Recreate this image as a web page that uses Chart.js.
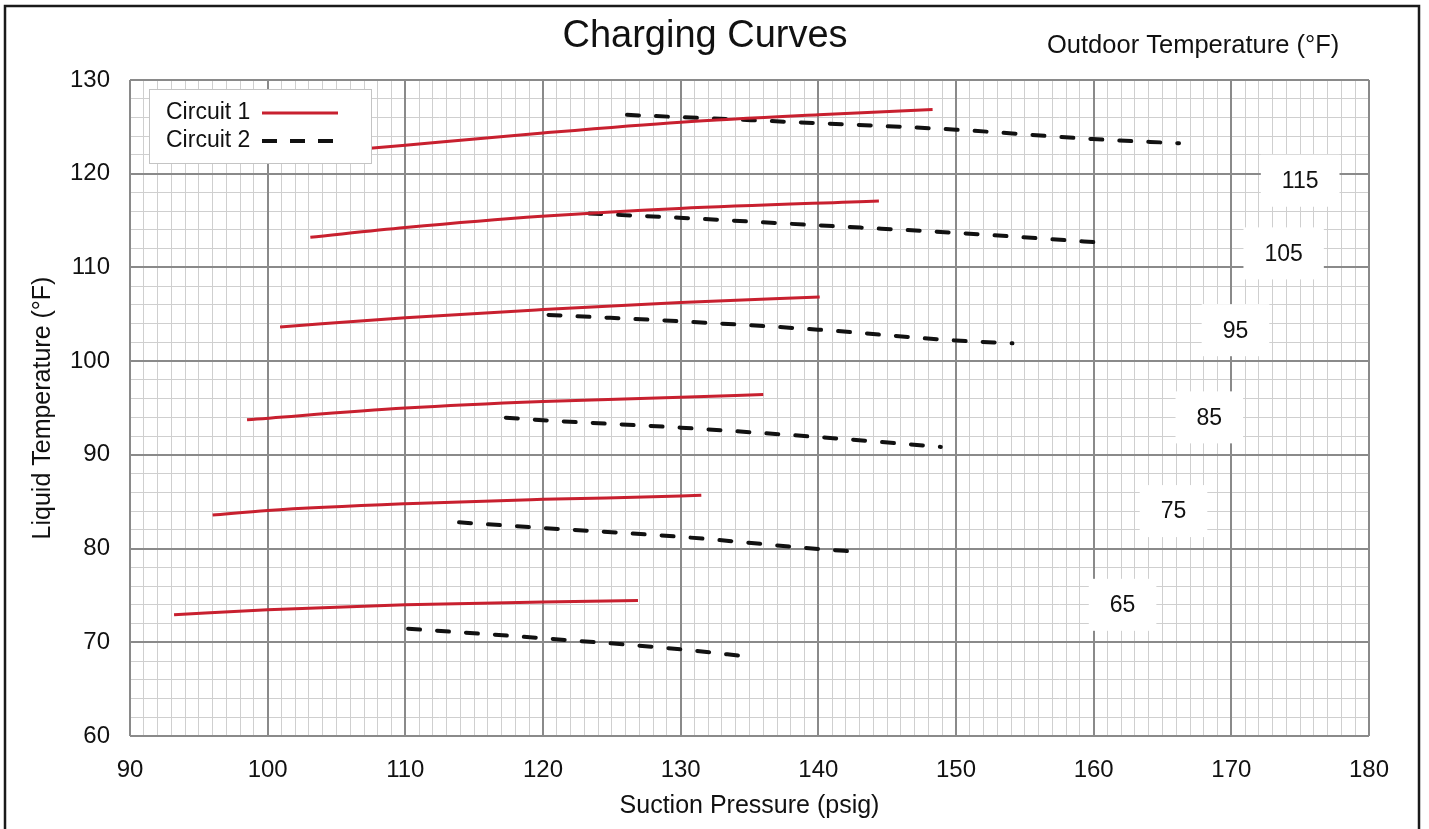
<!DOCTYPE html>
<html>
<head>
<meta charset="utf-8">
<title>Charging Curves</title>
<script src="https://cdn.jsdelivr.net/npm/chart.js@4.4.1/dist/chart.umd.min.js"></script>
<style>
  html, body { margin: 0; padding: 0; background: #fff; }
  #wrap { width: 1429px; height: 829px; overflow: hidden; }
</style>
</head>
<body>
<div id="wrap"><canvas id="chart" width="1429" height="829"></canvas></div>
<script>
// outdoor temperature (°F) of each pair of curves
const outdoorTemps = [65, 75, 85, 95, 105, 115];

// circuit 1 (solid red): suction pressure (psig) and liquid temp (°F), one row per outdoor temp
const c1Psig = [
  [93.2, 100, 110, 120, 126.9],
  [96.0, 100, 110, 120, 130, 131.5],
  [98.5, 110, 120, 130, 136.0],
  [100.9, 110, 120, 130, 140.1],
  [103.1, 110, 119.9, 129.9, 144.4],
  [105.5, 110, 120, 130, 140, 148.3]
];
const c1Temp = [
  [72.93, 73.46, 74.0, 74.29, 74.46],
  [83.57, 84.07, 84.79, 85.25, 85.6, 85.68],
  [93.75, 95.0, 95.7, 96.14, 96.45],
  [103.64, 104.64, 105.5, 106.25, 106.85],
  [113.22, 114.25, 115.45, 116.3, 117.1],
  [122.45, 123.05, 124.35, 125.5, 126.3, 126.85]
];

// circuit 2 (dashed black)
const c2Psig = [
  [110.2, 120, 130, 135.1],
  [113.9, 120, 130, 140, 142.8],
  [117.3, 120, 130, 140, 148.9],
  [120.4, 130, 140, 150, 154.1],
  [123.35, 129.9, 139.9, 149.9, 160.5],
  [126.1, 139.9, 150, 159.9, 166.2]
];
const c2Temp = [
  [71.45, 70.43, 69.25, 68.43],
  [82.8, 82.2, 81.25, 79.96, 79.66],
  [93.97, 93.7, 92.9, 91.9, 90.85],
  [104.93, 104.25, 103.36, 102.2, 101.9],
  [115.75, 115.3, 114.5, 113.7, 112.65],
  [126.28, 125.4, 124.7, 123.7, 123.25]
];

// where the outdoor temperature tags sit (data units)
const tagPsig = [162.1, 165.8, 168.4, 170.3, 173.8, 175.0];
const tagTemp = [74.0, 84.0, 94.0, 103.3, 111.5, 119.25];

const RED = '#c8202f';
const BLACK = '#111111';
const MAJOR = '#8a8a8a';
const MINOR = '#cfcfcf';
const FONT = '"Liberation Sans", Arial, Helvetica, sans-serif';

Chart.defaults.font.family = FONT;
Chart.defaults.color = '#111';

const toPoints = (ps, ts) => ps.map((p, i) => ({ x: p, y: ts[i] }));

const datasets = [];
outdoorTemps.forEach((t, i) => {
  datasets.push({
    label: 'Circuit 1 ' + t,
    data: toPoints(c1Psig[i], c1Temp[i]),
    xAxisID: 'x', yAxisID: 'y',
    borderColor: RED,
    borderWidth: 3,
    pointRadius: 0,
    cubicInterpolationMode: 'monotone',
    fill: false
  });
  datasets.push({
    label: 'Circuit 2 ' + t,
    data: toPoints(c2Psig[i], c2Temp[i]),
    xAxisID: 'x', yAxisID: 'y',
    borderColor: BLACK,
    borderWidth: 4,
    borderDash: [12, 17],
    borderCapStyle: 'round',
    pointRadius: 0,
    cubicInterpolationMode: 'monotone',
    fill: false
  });
});

// white page with the dark frame, plus the two header texts
const framePlugin = {
  id: 'frame',
  beforeDraw(chart) {
    const ctx = chart.ctx;
    ctx.save();
    ctx.fillStyle = '#fff';
    ctx.fillRect(0, 0, chart.width, chart.height);
    ctx.strokeStyle = '#1a1a1a';
    ctx.lineWidth = 2.5;
    ctx.strokeRect(5, 6, 1414, 900);
    ctx.restore();
  },
  afterDraw(chart) {
    const ctx = chart.ctx;
    ctx.save();
    ctx.fillStyle = '#111';
    ctx.textBaseline = 'alphabetic';
    ctx.textAlign = 'center';
    ctx.font = '38px ' + FONT;
    ctx.fillText('Charging Curves', 705, 47);
    ctx.textAlign = 'left';
    ctx.font = '25.5px ' + FONT;
    ctx.fillText('Outdoor Temperature (°F)', 1047, 53);
    ctx.restore();
  }
};

// temperature tags and legend sit on top of the curves
const overlayPlugin = {
  id: 'overlay',
  afterDatasetsDraw(chart) {
    const ctx = chart.ctx;
    const xs = chart.scales.x, ys = chart.scales.y;
    ctx.save();
    ctx.font = '23px ' + FONT;
    ctx.textBaseline = 'middle';
    ctx.textAlign = 'center';
    outdoorTemps.forEach((t, i) => {
      const px = xs.getPixelForValue(tagPsig[i]);
      const py = ys.getPixelForValue(tagTemp[i]);
      const w = ctx.measureText(String(t)).width + 42;
      ctx.fillStyle = '#fff';
      ctx.fillRect(px - w / 2, py - 26, w, 52);
      ctx.fillStyle = '#111';
      ctx.fillText(String(t), px, py + 1);
    });

    // legend box
    ctx.fillStyle = '#fff';
    ctx.fillRect(149, 89, 223, 75);
    ctx.strokeStyle = '#c4c4c4';
    ctx.lineWidth = 1;
    ctx.strokeRect(149.5, 89.5, 222, 74);
    ctx.textAlign = 'left';
    ctx.fillStyle = '#111';
    ctx.fillText('Circuit 1', 166, 113);
    ctx.fillText('Circuit 2', 166, 141);
    ctx.lineWidth = 3;
    ctx.strokeStyle = RED;
    ctx.beginPath(); ctx.moveTo(262, 113); ctx.lineTo(338, 113); ctx.stroke();
    ctx.lineWidth = 4;
    ctx.strokeStyle = BLACK;
    ctx.setLineDash([15, 13]);
    ctx.beginPath(); ctx.moveTo(262, 141); ctx.lineTo(338, 141); ctx.stroke();
    ctx.restore();
  }
};

new Chart(document.getElementById('chart'), {
  type: 'line',
  data: { datasets: datasets },
  options: {
    responsive: false,
    animation: false,
    events: [],
    layout: { padding: { left: 0, right: 60, top: 80, bottom: 0 } },
    plugins: {
      legend: { display: false },
      title: { display: false },
      tooltip: { enabled: false }
    },
    scales: {
      x: {
        type: 'linear', axis: 'x', position: 'bottom', min: 90, max: 180,
        ticks: { stepSize: 10, autoSkip: false, maxRotation: 0, padding: 20, color: '#111', font: { size: 24 } },
        grid: { color: MAJOR, lineWidth: 2, drawTicks: false, z: -0.5 },
        border: { display: false },
        title: { display: true, text: 'Suction Pressure (psig)', color: '#111', font: { size: 25 }, padding: { top: 0, bottom: 8 } },
        afterFit: (s) => { s.height = 93; }
      },
      y: {
        type: 'linear', axis: 'y', position: 'left', min: 60, max: 130,
        ticks: { stepSize: 10, autoSkip: false, padding: 20, color: '#111', font: { size: 24 } },
        grid: { color: MAJOR, lineWidth: 2, drawTicks: false, z: -0.5 },
        border: { display: false },
        title: { display: true, text: 'Liquid Temperature (°F)', color: '#111', font: { size: 25 }, padding: { top: 28, bottom: 0 } },
        afterFit: (s) => { s.width = 130; }
      },
      xMinor: {
        type: 'linear', axis: 'x', position: 'bottom', min: 90, max: 180,
        ticks: { display: false, stepSize: 1, autoSkip: false },
        grid: { color: MINOR, lineWidth: 1, drawTicks: false, z: -1 },
        border: { display: false },
        afterFit: (s) => { s.height = 0; }
      },
      yMinor: {
        type: 'linear', axis: 'y', position: 'left', min: 60, max: 130,
        ticks: { display: false, stepSize: 2, autoSkip: false },
        grid: { color: MINOR, lineWidth: 1, drawTicks: false, z: -1 },
        border: { display: false },
        afterFit: (s) => { s.width = 0; }
      }
    }
  },
  plugins: [framePlugin, overlayPlugin]
});
</script>
</body>
</html>
